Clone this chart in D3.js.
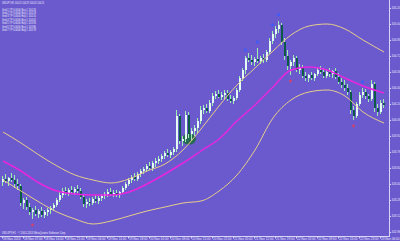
<!DOCTYPE html>
<html>
<head>
<meta charset="utf-8">
<script src="https://cdn.jsdelivr.net/npm/d3@7/dist/d3.min.js"></script>
<style>
  body { margin: 0; background: #6a5acd; }
  svg { display: block; }
  text { font-family: "Liberation Sans", Arial, sans-serif; fill: #ecebff; }
</style>
</head>
<body>
<div id="chart"></div>
<script>
// hourly candles
var opens = [103.46,103.49,103.47,103.50,103.48,103.44,103.42,103.25,103.28,103.21,103.16,103.18,103.14,103.17,103.13,103.16,
  103.18,103.20,103.23,103.28,103.33,103.37,103.35,103.38,103.36,103.39,103.37,103.31,103.24,103.26,103.25,103.29,
  103.27,103.30,103.32,103.34,103.36,103.34,103.35,103.33,103.36,103.40,103.44,103.48,103.51,103.49,103.54,103.57,
  103.59,103.62,103.60,103.65,103.67,103.69,103.72,103.75,103.73,103.76,103.79,104.12,103.87,103.89,104.13,103.94,
  103.97,104.00,104.07,104.18,104.20,104.17,104.25,104.32,104.34,104.31,104.33,104.35,104.29,104.27,104.30,104.38,
  104.50,104.58,104.70,104.68,104.66,104.69,104.67,104.70,104.68,104.76,104.87,104.94,104.99,105.03,104.86,104.72,
  104.62,104.66,104.70,104.58,104.61,104.52,104.50,104.53,104.50,104.54,104.58,104.56,104.52,104.56,104.54,104.57,
  104.51,104.46,104.43,104.40,104.36,104.18,104.12,104.24,104.33,104.36,104.32,104.29,104.44,104.20,104.16,104.25];
var highs = [103.52,103.54,103.51,103.55,103.53,103.49,103.44,103.30,103.31,103.25,103.20,103.22,103.19,103.21,103.18,103.20,
  103.22,103.25,103.30,103.36,103.40,103.41,103.40,103.42,103.41,103.43,103.40,103.34,103.29,103.30,103.31,103.33,
  103.32,103.34,103.36,103.39,103.40,103.38,103.38,103.37,103.42,103.46,103.50,103.53,103.55,103.56,103.59,103.61,
  103.64,103.66,103.67,103.70,103.72,103.74,103.77,103.79,103.78,103.81,104.18,104.14,103.92,104.17,104.16,104.00,
  104.03,104.10,104.22,104.23,104.24,104.28,104.35,104.37,104.38,104.36,104.38,104.38,104.33,104.32,104.40,104.52,
  104.60,104.72,104.75,104.73,104.71,104.80,104.72,104.74,104.78,104.90,104.97,105.02,105.07,105.05,104.90,104.78,
  104.68,104.73,104.72,104.64,104.63,104.56,104.54,104.56,104.55,104.61,104.62,104.60,104.58,104.60,104.58,104.60,
  104.55,104.50,104.48,104.44,104.38,104.22,104.26,104.36,104.40,104.39,104.34,104.48,104.46,104.24,104.28,104.29];
var lows = [103.42,103.45,103.42,103.46,103.40,103.38,103.22,103.19,103.18,103.13,103.09,103.12,103.10,103.11,103.10,103.12,
  103.14,103.17,103.21,103.26,103.30,103.33,103.32,103.34,103.33,103.35,103.29,103.21,103.20,103.22,103.23,103.25,
  103.24,103.27,103.29,103.31,103.32,103.31,103.31,103.30,103.34,103.38,103.42,103.45,103.47,103.47,103.51,103.54,
  103.56,103.58,103.57,103.61,103.64,103.66,103.69,103.71,103.70,103.73,103.76,103.84,103.82,103.86,103.90,103.88,
  103.92,103.94,104.04,104.14,104.15,104.15,104.22,104.29,104.30,104.28,104.29,104.27,104.25,104.24,104.28,104.36,
  104.47,104.54,104.66,104.63,104.62,104.65,104.64,104.65,104.66,104.74,104.84,104.90,104.95,104.83,104.68,104.58,
  104.53,104.62,104.56,104.54,104.50,104.47,104.46,104.48,104.47,104.52,104.54,104.50,104.50,104.51,104.50,104.49,
  104.44,104.40,104.37,104.33,104.14,104.08,104.10,104.22,104.30,104.29,104.26,104.27,104.16,104.12,104.14,104.20];
var closes = [103.49,103.47,103.50,103.48,103.44,103.42,103.25,103.28,103.21,103.16,103.18,103.14,103.17,103.13,103.16,103.18,
  103.20,103.23,103.28,103.33,103.37,103.35,103.38,103.36,103.39,103.37,103.31,103.24,103.26,103.25,103.29,103.27,
  103.30,103.32,103.34,103.36,103.34,103.35,103.33,103.36,103.40,103.44,103.48,103.51,103.49,103.54,103.57,103.59,
  103.62,103.60,103.65,103.67,103.69,103.72,103.75,103.73,103.76,103.79,104.12,103.87,103.89,104.13,103.94,103.97,
  104.00,104.07,104.18,104.20,104.17,104.25,104.32,104.34,104.31,104.33,104.35,104.29,104.27,104.30,104.38,104.50,
  104.58,104.70,104.68,104.66,104.69,104.67,104.70,104.68,104.76,104.87,104.94,104.99,105.03,104.86,104.72,104.62,
  104.66,104.70,104.58,104.61,104.52,104.50,104.53,104.50,104.54,104.58,104.56,104.52,104.56,104.54,104.57,104.51,
  104.46,104.43,104.40,104.36,104.18,104.12,104.24,104.33,104.36,104.32,104.29,104.44,104.20,104.16,104.25,104.23];

// indicator lines, sampled at these bars
var lineBars = [0,6,12,18,24,30,36,42,48,54,60,66,72,78,84,90,96,102,108,114,120,127];
var upperBand = [103.96,103.85,103.73,103.62,103.53,103.48,103.45,103.49,103.57,103.64,103.78,103.99,104.22,104.43,104.60,104.77,104.93,105.02,105.04,104.99,104.88,104.76];
var middleMA  = [103.67,103.57,103.45,103.37,103.34,103.33,103.33,103.36,103.44,103.54,103.65,103.77,103.89,104.07,104.23,104.41,104.58,104.61,104.58,104.50,104.42,104.35];
var lowerBand = [103.48,103.37,103.26,103.16,103.09,103.04,103.07,103.12,103.17,103.21,103.25,103.27,103.37,103.53,103.78,104.10,104.28,104.36,104.38,104.32,104.16,104.05];

var fractalUp = [81, 85, 90, 92, 120];
var fractalDown = [10, 96, 117];

var priceTicks = [105.20,105.04,104.88,104.72,104.56,104.40,104.24,104.08,103.92,103.76,103.60,103.44,103.28,103.12,102.96];
var timeBars = [0,7,14,21,28,35,42,49,56,63,70,77,84,91,98,105,112,119,126];
var timeLabels = ["18 Nov 2013","18 Nov 07:00","18 Nov 14:00","18 Nov 21:00","19 Nov 04:00","19 Nov 11:00","19 Nov 18:00",
  "20 Nov 01:00","20 Nov 08:00","20 Nov 15:00","20 Nov 22:00","21 Nov 05:00","21 Nov 12:00","21 Nov 19:00",
  "22 Nov 02:00","22 Nov 09:00","22 Nov 16:00","22 Nov 23:00","23 Nov 06:00"];

var titleText = "USDJPY,H1  104.25 104.29 104.20 104.23";
var infoLines = ["Grid 1 TP 0.0000 Buy 1 104.26","Grid 2 TP 0.0000 Buy 1 104.18","Grid 3 TP 0.0000 Buy 1 104.10",
  "Grid 4 TP 0.0000 Buy 1 104.02","Grid 5 TP 0.0000 Buy 1 103.94","Grid 6 TP 0.0000 Buy 1 103.86","Grid 7 TP 0.0000 Buy 1 103.78"];
var footerText = "USDJPY,H1 \u00b7 \u00a9 2001-2013 MetaQuotes Software Corp.";

// dark blob drawn on the chart near the breakout
var blobBar = 62, blobPrice = 103.89;

var width = 400
var height = 241
var plotRight = 389
var plotBottom = 236

var svg = d3.select("#chart")
  .append("svg")
    .attr("width", width)
    .attr("height", height)

var x = d3.scaleLinear().domain([0, opens.length - 1]).range([3, 384]);
var y = d3.scaleLinear().domain([102.92, 105.28]).range([plotBottom, 0]);

// blob
svg.append("ellipse")
  .attr("cx", x(blobBar))
  .attr("cy", y(blobPrice))
  .attr("rx", 7)
  .attr("ry", 5.5)
  .attr("fill", "#1f6b44")
  .attr("opacity", 0.9)

// candles
var bars = d3.range(opens.length);
var cg = svg.append("g").attr("shape-rendering", "crispEdges");

cg.selectAll(".wick")
  .data(bars)
  .enter().append("line")
    .attr("x1", function(i) { return x(i) - 0.5; })
    .attr("x2", function(i) { return x(i) - 0.5; })
    .attr("y1", function(i) { return y(highs[i]); })
    .attr("y2", function(i) { return y(lows[i]); })
    .attr("stroke", "#9fefb0")
    .attr("stroke-width", 1)

cg.selectAll(".body")
  .data(bars)
  .enter().append("rect")
    .attr("x", function(i) { return x(i) - 1; })
    .attr("width", 2)
    .attr("y", function(i) { return y(Math.max(opens[i], closes[i])); })
    .attr("height", function(i) { return Math.max(1, Math.abs(y(opens[i]) - y(closes[i]))); })
    .attr("fill", function(i) { return closes[i] >= opens[i] ? "#e4fbf4" : "#0b5a46"; })

// indicator lines
function linePts(vals) {
  return lineBars.map(function(b, k) { return { b: b, v: vals[k] }; });
}
var lineGen = d3.line()
  .x(function(d) { return x(d.b); })
  .y(function(d) { return y(d.v); })
  .curve(d3.curveMonotoneX);

svg.append("path").attr("d", lineGen(linePts(upperBand)))
  .attr("fill", "none").attr("stroke", "#e8cd8c").attr("stroke-width", 1)
svg.append("path").attr("d", lineGen(linePts(lowerBand)))
  .attr("fill", "none").attr("stroke", "#e8cd8c").attr("stroke-width", 1)
svg.append("path").attr("d", lineGen(linePts(middleMA)))
  .attr("fill", "none").attr("stroke", "#e826e0").attr("stroke-width", 1.5)

// fractals
svg.selectAll(".fup")
  .data(fractalUp)
  .enter().append("circle")
    .attr("cx", function(i) { return x(i) - 0.5; })
    .attr("cy", function(i) { return y(highs[i]) - 6; })
    .attr("r", 1.4)
    .attr("fill", "#3b5bff")
svg.selectAll(".fdn")
  .data(fractalDown)
  .enter().append("circle")
    .attr("cx", function(i) { return x(i) - 0.5; })
    .attr("cy", function(i) { return y(lows[i]) + 6; })
    .attr("r", 1.4)
    .attr("fill", "#d2406e")

// axes frame
svg.append("line")
  .attr("x1", plotRight + 0.5).attr("x2", plotRight + 0.5)
  .attr("y1", 0).attr("y2", plotBottom)
  .attr("stroke", "#d8d4f4").attr("stroke-width", 1)
svg.append("line")
  .attr("x1", 0).attr("x2", plotRight + 1)
  .attr("y1", plotBottom + 0.5).attr("y2", plotBottom + 0.5)
  .attr("stroke", "#d8d4f4").attr("stroke-width", 1)

// price axis
var yAxis = d3.axisRight(y).tickValues(priceTicks).tickSize(1.5).tickPadding(0.5)
  .tickFormat(d3.format(".2f"));
var ya = svg.append("g")
  .attr("transform", "translate(" + (plotRight + 0.5) + ",0)")
  .call(yAxis);
ya.select(".domain").remove();
ya.selectAll("line").attr("stroke", "#d8d4f4");
ya.selectAll("text").style("font-size", "3px").attr("fill", "#ecebff");

// time axis
var xa = svg.append("g")
  .attr("transform", "translate(0," + (plotBottom + 0.5) + ")");
xa.selectAll("line")
  .data(timeBars)
  .enter().append("line")
    .attr("x1", function(b) { return x(b) - 0.5; })
    .attr("x2", function(b) { return x(b) - 0.5; })
    .attr("y1", 0).attr("y2", 2)
    .attr("stroke", "#d8d4f4")
xa.selectAll("text")
  .data(timeBars)
  .enter().append("text")
    .attr("x", function(b) { return x(b); })
    .attr("y", 3.8)
    .style("font-size", "3.1px")
    .text(function(b, k) { return timeLabels[k]; })

// texts
svg.append("text").attr("x", 2).attr("y", 4)
  .attr("textLength", 42).attr("lengthAdjust", "spacingAndGlyphs")
  .style("font-size", "3.6px").text(titleText)
svg.selectAll(".info")
  .data(infoLines)
  .enter().append("text")
    .attr("x", 2)
    .attr("y", function(d, k) { return 10.5 + k * 3.4; })
    .attr("textLength", 34).attr("lengthAdjust", "spacingAndGlyphs")
    .style("font-size", "3.3px")
    .text(function(d) { return d; })
svg.append("text").attr("x", 2).attr("y", 233.5)
  .attr("textLength", 64).attr("lengthAdjust", "spacingAndGlyphs")
  .style("font-size", "3.4px").text(footerText)
</script>
</body>
</html>
